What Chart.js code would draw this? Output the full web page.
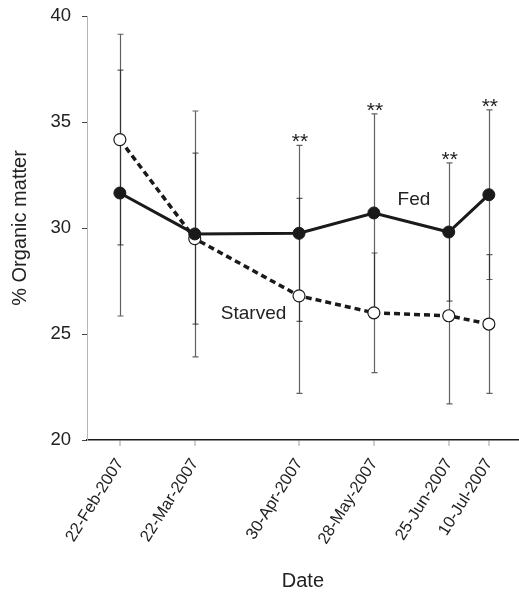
<!DOCTYPE html>
<html>
<head>
<meta charset="utf-8">
<script src="https://cdn.jsdelivr.net/npm/chart.js@4.4.1/dist/chart.umd.min.js"></script>
<style>
  html, body { margin: 0; padding: 0; background: #fff; overflow: hidden; }
  #wrap { width: 519px; height: 594px; overflow: hidden; }
  canvas { display: block; }
</style>
</head>
<body>
<!-- canvas is a little wider than the page: Chart.js keeps some room right of the
     last rotated label, the reference axis runs to the edge -->
<div id="wrap"><canvas id="chart" width="526" height="594"></canvas></div>
<script>
// sampling dates (x axis is proportional to time)
const dates = ['22-Feb-2007', '22-Mar-2007', '30-Apr-2007', '28-May-2007', '25-Jun-2007', '10-Jul-2007'];
const fedValues = [31.65, 29.72, 29.75, 30.71, 29.81, 31.57];
const fedSD = [5.8, 5.8, 4.15, 4.67, 3.26, 4.0];
const starvedValues = [34.17, 29.5, 26.8, 26.0, 25.86, 25.47];
const starvedSD = [4.97, 4.03, 4.6, 2.82, 4.16, 3.27];
const sigMarks = ['', '', '**', '**', '**', '**'];
const yTicks = [20, 25, 30, 35, 40];
const seriesLabels = [
    { text: 'Fed', date: '12-Jun-2007', value: 31.33 },
    { text: 'Starved', date: '13-Apr-2007', value: 25.96 }
];

const months = { Jan: 0, Feb: 1, Mar: 2, Apr: 3, May: 4, Jun: 5, Jul: 6, Aug: 7, Sep: 8, Oct: 9, Nov: 10, Dec: 11 };
function dayOf(str) {
    const p = str.split('-');
    const t = Date.UTC(+p[2], months[p[1]], +p[0]);
    return Math.round((t - Date.UTC(2007, 1, 22)) / 86400000);
}
const days = dates.map(dayOf);

const font = 'Liberation Sans, Arial, Helvetica, sans-serif';

const errorBars = {
    id: 'errorBars',
    beforeDatasetsDraw(chart) {
        const ctx = chart.ctx;
        const x = chart.scales.x, y = chart.scales.y;
        const sets = [[fedValues, fedSD], [starvedValues, starvedSD]];
        ctx.save();
        ctx.strokeStyle = 'rgba(30,30,30,0.7)';
        ctx.lineWidth = 1.2;
        sets.forEach(function(s) {
            for (let i = 0; i < days.length; i++) {
                const px = Math.round(x.getPixelForValue(days[i])) + 0.5;
                const top = y.getPixelForValue(s[0][i] + s[1][i]);
                const bot = y.getPixelForValue(s[0][i] - s[1][i]);
                ctx.beginPath();
                ctx.moveTo(px, top); ctx.lineTo(px, bot);
                ctx.moveTo(px - 3, top); ctx.lineTo(px + 3, top);
                ctx.moveTo(px - 3, bot); ctx.lineTo(px + 3, bot);
                ctx.stroke();
            }
        });
        ctx.restore();
    },
    afterDatasetsDraw(chart) {
        const ctx = chart.ctx;
        const x = chart.scales.x, y = chart.scales.y;
        ctx.save();
        ctx.fillStyle = '#222';
        ctx.textAlign = 'center';
        ctx.textBaseline = 'alphabetic';
        ctx.font = '21px ' + font;
        for (let i = 0; i < days.length; i++) {
            if (!sigMarks[i]) continue;
            const px = x.getPixelForValue(days[i]);
            const top = y.getPixelForValue(fedValues[i] + fedSD[i]);
            ctx.fillText(sigMarks[i], px + 1, top + 3);
        }
        ctx.font = '19px ' + font;
        ctx.textBaseline = 'middle';
        seriesLabels.forEach(function(l) {
            ctx.fillText(l.text, x.getPixelForValue(dayOf(l.date)), y.getPixelForValue(l.value));
        });
        ctx.restore();
    }
};

new Chart(document.getElementById('chart'), {
    type: 'line',
    data: {
        datasets: [
            {
                label: 'Fed',
                data: days.map((d, i) => ({ x: d, y: fedValues[i] })),
                borderColor: '#1a1a1a',
                borderWidth: 3,
                pointRadius: 6,
                pointBackgroundColor: '#1a1a1a',
                pointBorderColor: '#1a1a1a',
                pointBorderWidth: 1,
                tension: 0
            },
            {
                label: 'Starved',
                data: days.map((d, i) => ({ x: d, y: starvedValues[i] })),
                borderColor: '#1a1a1a',
                borderWidth: 3.5,
                borderDash: [6, 4],
                pointRadius: 6,
                pointBackgroundColor: '#fff',
                pointBorderColor: '#1a1a1a',
                pointBorderWidth: 1.2,
                tension: 0
            }
        ]
    },
    options: {
        responsive: false,
        animation: false,
        layout: { padding: { top: 16, right: 0, left: 0, bottom: 0 } },
        plugins: { legend: { display: false }, tooltip: { enabled: false } },
        scales: {
            x: {
                type: 'linear',
                min: -12.3,
                max: 149.2,
                afterBuildTicks: function(scale) {
                    scale.ticks = days.map(d => ({ value: d }));
                },
                afterFit: function(scale) {
                    scale.height = 154;
                },
                ticks: {
                    callback: function(v) { return dates[days.indexOf(v)]; },
                    autoSkip: false,
                    minRotation: 58,
                    maxRotation: 58,
                    padding: 9,
                    color: '#222',
                    font: { family: font, size: 16.5 }
                },
                grid: { drawOnChartArea: false, drawTicks: true, tickLength: 6, color: '#cfcfcf', lineWidth: 2 },
                border: { color: '#1a1a1a', width: 1.5 },
                title: {
                    display: true,
                    text: 'Date',
                    color: '#222',
                    font: { family: font, size: 20 },
                    padding: { top: 0, bottom: 1 }
                }
            },
            y: {
                min: 20,
                max: 40,
                afterBuildTicks: function(scale) {
                    scale.ticks = yTicks.map(v => ({ value: v }));
                },
                afterFit: function(scale) {
                    scale.width = 87;
                    scale.paddingTop = 0;
                    scale.paddingBottom = 0;
                },
                ticks: {
                    padding: 11,
                    color: '#222',
                    font: { family: font, size: 18.5 }
                },
                grid: { drawOnChartArea: false, drawTicks: true, tickLength: 5, color: '#444', lineWidth: 1 },
                border: { color: '#b5b5b5', width: 1 },
                title: {
                    display: true,
                    text: '% Organic matter',
                    color: '#222',
                    font: { family: font, size: 20 },
                    padding: { top: 8, bottom: 0 }
                }
            }
        }
    },
    plugins: [errorBars]
});
</script>
</body>
</html>
